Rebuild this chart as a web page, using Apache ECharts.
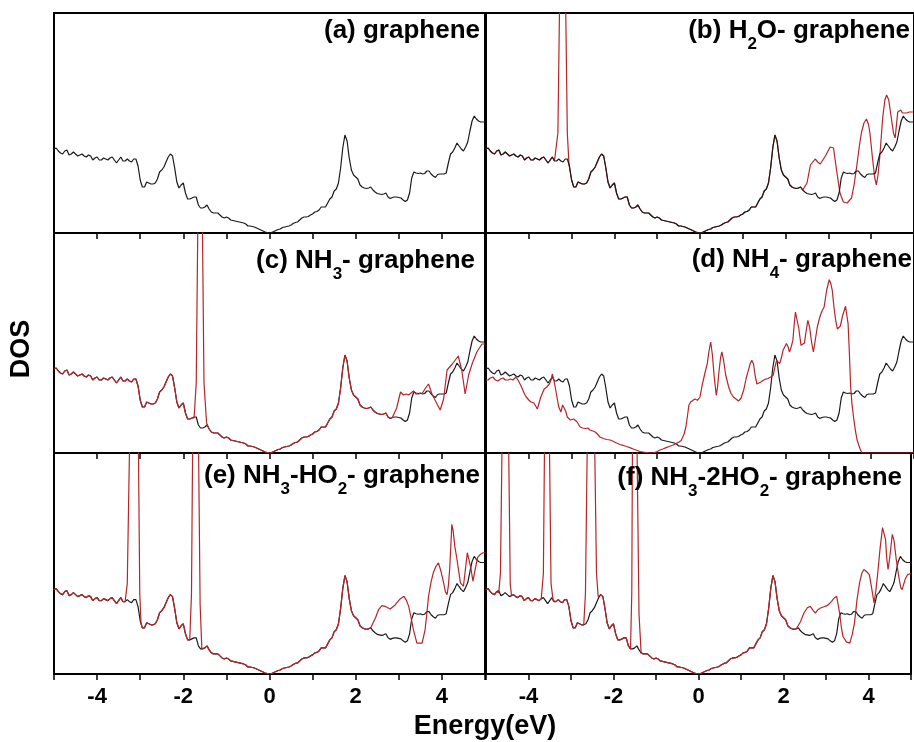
<!DOCTYPE html>
<html>
<head>
<meta charset="utf-8">
<title>DOS</title>
<script src="https://cdn.jsdelivr.net/npm/echarts@6/dist/echarts.min.js"></script>
<style>
  html, body { margin: 0; padding: 0; background: #fff; }
  #main { width: 914px; height: 742px; }
</style>
</head>
<body>
<div id="main"></div>
<script>
// energy grid (eV), one sample every 0.05 eV
const energy = Array.from({ length: 201 }, (_, i) => +(-5 + i * 0.05).toFixed(2));

// pristine graphene DOS (arb. units)
const pristine = [
  8.4, 8.5, 8.2, 8.0, 7.9, 8.2, 8.3, 7.8, 7.9, 8.1, 7.9, 7.7, 7.8, 7.9, 7.7, 7.6, 7.8, 7.7, 7.3, 7.5,
  7.6, 7.3, 7.3, 7.5, 7.4, 7.3, 7.5, 7.6, 7.3, 7.0, 7.3, 7.6, 7.2, 7.2, 7.4, 7.2, 7.1, 7.4, 7.4, 6.7,
  5.3, 4.6, 4.6, 5.1, 5.0, 4.9, 4.9, 5.0, 5.4, 6.1, 6.3, 6.6, 7.1, 7.6, 7.9, 7.7, 6.5, 5.1, 4.5, 4.8,
  5.0, 4.0, 3.4, 3.4, 3.5, 3.6, 3.6, 2.8, 2.5, 2.5, 2.6, 2.8, 2.4, 2.1, 2.0, 2.0, 2.0, 1.8, 1.6, 1.5,
  1.6, 1.5, 1.3, 1.25, 1.2, 1.15, 1.1, 1.05, 1.0, 0.9, 0.7, 0.7, 0.65, 0.6, 0.5, 0.4, 0.3, 0.2, 0.1, 0.05,
  0.0, 0.05, 0.15, 0.25, 0.35, 0.4, 0.55, 0.6, 0.65, 0.7, 0.8, 0.95, 1.05, 1.1, 1.3, 1.5, 1.6, 1.6, 1.65, 1.8,
  1.9, 2.1, 2.15, 2.3, 2.6, 2.6, 2.6, 3.0, 3.4, 3.6, 4.2, 4.4, 5.0, 6.5, 8.5, 9.8, 9.2, 7.5, 6.3, 5.8,
  5.6, 5.4, 4.8, 4.6, 4.5, 4.45, 4.5, 4.6, 4.3, 4.1, 3.95, 3.9, 3.85, 3.9, 4.0, 3.6, 3.45, 3.55, 3.6, 3.6,
  3.55, 3.5, 3.3, 3.15, 3.3, 4.0, 5.5, 6.1, 6.0, 5.95, 6.0, 5.9, 5.95, 6.2, 6.2, 5.9, 5.7, 5.55, 5.85, 5.9,
  5.9, 5.9, 6.0, 7.0, 7.9, 8.1, 8.5, 9.0, 8.7, 8.4, 8.2, 8.6, 9.1, 10.2, 11.2, 11.7, 11.4, 11.2, 11.1, 11.1, 11.1
];

// adsorbed systems: [energy, DOS] pairs where the red curve leaves the black one
const h2oSpike = [[-3.36, 7.3], [-3.32, 10], [-3.284, 22], [-3.24, 45], [-3.18, 45], [-3.136, 22], [-3.10, 10], [-3.06, 6.8]];
const h2oHigh = [[2.42, 4.1], [2.50, 5.0], [2.58, 6.8], [2.69, 7.4], [2.75, 7.1], [2.81, 6.9], [2.93, 7.7], [3.04, 8.6],
  [3.12, 8.5], [3.19, 6.3], [3.27, 4.0], [3.35, 3.1], [3.44, 3.0], [3.54, 3.5], [3.60, 4.8], [3.66, 6.6], [3.72, 8.6],
  [3.77, 10.0], [3.83, 11.0], [3.89, 11.4], [3.94, 10.8], [3.97, 10.0], [4.03, 7.5], [4.08, 5.6], [4.12, 4.8], [4.16, 5.8],
  [4.20, 7.6], [4.27, 11.6], [4.32, 13.3], [4.36, 13.8], [4.41, 13.3], [4.47, 11.5], [4.52, 10.0], [4.56, 9.5], [4.62, 12.1],
  [4.69, 12.3], [4.73, 12.0], [4.77, 11.8], [4.83, 12.0], [4.89, 12.1], [5.0, 12.1]];

const nh3Spike = [[-1.75, 3.5], [-1.70, 7], [-1.665, 22], [-1.64, 45], [-1.58, 45], [-1.555, 22], [-1.52, 7], [-1.46, 3.0]];
const nh3High = [[2.88, 3.5], [2.95, 4.5], [3.0, 5.4], [3.04, 6.1], [3.11, 5.8], [3.17, 5.9], [3.23, 5.8], [3.34, 6.2],
  [3.40, 5.9], [3.46, 5.9], [3.55, 6.0], [3.62, 6.5], [3.69, 6.9], [3.77, 5.9], [3.84, 5.3], [3.96, 4.3], [4.04, 5.4],
  [4.12, 8.3], [4.24, 8.9], [4.31, 9.3], [4.38, 9.7], [4.46, 8.3], [4.54, 5.9], [4.62, 7.8], [4.70, 8.9], [4.81, 10.1],
  [4.93, 10.9], [5.0, 10.9]];

const nh4Red = [[-5.0, 7.3], [-4.95, 7.3], [-4.90, 7.5], [-4.84, 7.6], [-4.78, 7.3], [-4.72, 7.2], [-4.66, 7.4], [-4.60, 7.5],
  [-4.55, 7.3], [-4.49, 7.3], [-4.43, 7.4], [-4.37, 7.3], [-4.30, 7.6], [-4.24, 7.2], [-4.18, 6.7], [-4.14, 6.3], [-4.10, 5.9],
  [-4.06, 5.6], [-4.00, 5.3], [-3.95, 5.1], [-3.88, 5.0], [-3.80, 4.4], [-3.76, 5.0], [-3.72, 5.6], [-3.64, 6.4], [-3.58, 6.6],
  [-3.52, 6.9], [-3.48, 7.3], [-3.45, 7.9], [-3.41, 7.2], [-3.37, 6.3], [-3.33, 5.3], [-3.30, 4.6], [-3.25, 4.1], [-3.21, 4.8],
  [-3.18, 4.9], [-3.14, 4.2], [-3.10, 3.6], [-3.03, 3.3], [-2.95, 3.4], [-2.87, 3.1], [-2.80, 2.6], [-2.74, 2.5], [-2.68, 2.45],
  [-2.62, 2.5], [-2.57, 2.3], [-2.50, 2.2], [-2.45, 2.1], [-2.40, 1.9], [-2.34, 1.6], [-2.26, 1.45], [-2.18, 1.35], [-2.10, 1.3],
  [-2.02, 1.15], [-1.95, 1.0], [-1.87, 0.85], [-1.80, 0.77], [-1.72, 0.65], [-1.64, 0.54], [-1.56, 0.4], [-1.48, 0.27],
  [-1.40, 0.15], [-1.33, 0.1], [-1.25, 0.05], [-1.18, 0.0], [-1.12, 0.0], [-1.06, 0.05], [-1.00, 0.15], [-0.95, 0.27],
  [-0.87, 0.4], [-0.79, 0.54], [-0.72, 0.65], [-0.64, 0.77], [-0.56, 0.95], [-0.49, 1.1], [-0.44, 1.25], [-0.41, 1.44],
  [-0.37, 1.9], [-0.33, 2.6], [-0.29, 3.8], [-0.26, 4.77], [-0.22, 5.1], [-0.18, 5.27], [-0.12, 5.4], [-0.06, 5.27],
  [0.0, 5.6], [0.05, 6.77], [0.11, 7.9], [0.17, 8.94], [0.21, 10.2], [0.25, 11.1], [0.29, 9.8], [0.33, 7.7], [0.38, 5.77],
  [0.41, 6.6], [0.44, 8.0], [0.48, 9.5], [0.51, 10.1], [0.55, 9.3], [0.60, 7.8], [0.67, 6.6], [0.72, 6.0], [0.78, 5.6],
  [0.84, 5.4], [0.90, 5.2], [0.96, 5.5], [1.02, 6.27], [1.08, 7.5], [1.13, 8.27], [1.17, 8.9], [1.21, 9.27], [1.25, 8.9],
  [1.29, 7.7], [1.33, 6.9], [1.36, 6.77], [1.42, 7.1], [1.48, 7.27], [1.54, 7.4], [1.59, 7.44], [1.65, 7.6], [1.71, 7.77],
  [1.75, 8.6], [1.79, 9.27], [1.83, 9.1], [1.86, 8.94], [1.90, 9.5], [1.94, 10.27], [2.02, 10.94], [2.06, 10.6], [2.09, 10.1],
  [2.13, 10.6], [2.17, 11.27], [2.20, 12.8], [2.23, 14.1], [2.27, 14.0], [2.31, 12.4], [2.36, 10.77], [2.44, 11.0],
  [2.48, 12.2], [2.52, 13.27], [2.56, 12.6], [2.61, 11.0], [2.65, 10.1], [2.69, 11.2], [2.74, 12.6], [2.80, 13.6],
  [2.85, 14.2], [2.90, 14.6], [2.96, 16.3], [3.02, 17.34], [3.06, 16.9], [3.09, 16.27], [3.13, 14.6], [3.17, 13.27],
  [3.21, 12.4], [3.24, 12.27], [3.28, 12.7], [3.33, 13.7], [3.40, 14.67], [3.43, 13.8], [3.46, 12.94], [3.49, 10.0],
  [3.52, 6.6], [3.55, 4.94], [3.59, 3.5], [3.63, 2.27], [3.67, 1.3], [3.71, 0.77], [3.75, 0.3], [3.79, 0.0], [5.0, 0.0]];

const nh3ho2Spike1 = [[-3.34, 7.2], [-3.30, 9], [-3.25, 22], [-3.22, 45], [-3.07, 45], [-3.04, 22], [-3.01, 8], [-2.98, 5.0]];
const nh3ho2Spike2 = [[-1.84, 3.4], [-1.81, 8], [-1.785, 22], [-1.77, 45], [-1.66, 45], [-1.645, 22], [-1.61, 7], [-1.57, 2.5]];
const nh3ho2High = [[2.38, 4.57], [2.46, 5.6], [2.53, 6.4], [2.61, 6.8], [2.70, 6.7], [2.80, 6.47], [2.92, 6.9], [3.03, 7.47],
  [3.12, 7.73], [3.18, 7.3], [3.23, 6.73], [3.29, 5.5], [3.34, 4.4], [3.42, 3.07], [3.54, 3.07], [3.61, 4.4], [3.65, 6.0],
  [3.69, 7.73], [3.75, 9.2], [3.80, 10.07], [3.86, 10.7], [3.92, 11.07], [3.98, 10.2], [4.04, 9.07], [4.08, 8.2], [4.12, 7.9],
  [4.15, 8.8], [4.18, 10.4], [4.21, 13.0], [4.23, 14.9], [4.26, 14.3], [4.30, 12.7], [4.35, 11.4], [4.43, 9.07], [4.50, 8.73],
  [4.55, 10.6], [4.59, 12.07], [4.63, 12.0], [4.67, 10.6], [4.72, 9.23], [4.77, 10.4], [4.83, 11.6], [4.89, 11.9],
  [4.95, 12.07], [5.0, 12.07]];

const nh32ho2SpikeA = [[-4.70, 8.1], [-4.66, 10], [-4.625, 22], [-4.60, 45], [-4.49, 45], [-4.465, 22], [-4.43, 9], [-4.40, 7.8]];
const nh32ho2SpikeB = [[-3.68, 7.4], [-3.65, 10], [-3.625, 22], [-3.61, 45], [-3.52, 45], [-3.505, 22], [-3.47, 9], [-3.42, 7.3]];
const nh32ho2SpikeC = [[-2.70, 4.9], [-2.66, 8], [-2.62, 22], [-2.60, 45], [-2.46, 45], [-2.44, 22], [-2.40, 10], [-2.36, 7.7]];
const nh32ho2SpikeD = [[-1.60, 2.5], [-1.57, 8], [-1.555, 22], [-1.54, 45], [-1.46, 45], [-1.445, 22], [-1.40, 6], [-1.35, 2.1], [-1.32, 2.0]];
const nh32ho2High = [[2.32, 4.4], [2.40, 5.2], [2.48, 6.07], [2.56, 6.6], [2.63, 6.73], [2.70, 6.3], [2.75, 6.07], [2.81, 6.4],
  [2.87, 6.57], [2.95, 6.7], [3.02, 6.8], [3.08, 7.0], [3.13, 7.23], [3.20, 7.6], [3.25, 7.73], [3.29, 6.8], [3.32, 6.07],
  [3.36, 4.7], [3.40, 3.73], [3.48, 3.2], [3.56, 3.07], [3.62, 4.0], [3.67, 5.07], [3.73, 7.4], [3.79, 9.07], [3.84, 10.0],
  [3.89, 10.4], [3.95, 10.2], [4.02, 9.9], [4.08, 8.4], [4.13, 7.07], [4.17, 8.2], [4.21, 9.73], [4.27, 12.4], [4.33, 14.57],
  [4.37, 14.4], [4.40, 13.4], [4.43, 11.5], [4.46, 10.4], [4.50, 11.6], [4.56, 13.9], [4.60, 13.3], [4.65, 11.5], [4.71, 9.73],
  [4.76, 8.6], [4.79, 8.4], [4.86, 9.4], [4.92, 9.9], [5.0, 10.0]];

const xTicks = [-4, -2, 0, 2, 4];

// red curve = black curve except inside the read windows
function withWindows(windows) {
  let pts = energy.map((e, i) => [e, pristine[i]]);
  windows.forEach(w => {
    const lo = w[0][0], hi = w[w.length - 1][0];
    pts = pts.filter(p => p[0] < lo || p[0] > hi).concat(w);
  });
  return pts.sort((a, b) => a[0] - b[0]);
}

const black = energy.map((e, i) => [e, pristine[i]]);
const panels = [
  { label: '{n|(a) graphene}', red: null, right: 434, top: 18 },
  { label: '{n|(b) H}{s|2}{n|O- graphene}', red: withWindows([h2oSpike, h2oHigh]), right: 4, top: 18, blackOnTop: true },
  { label: '{n|(c) NH}{s|3}{n|- graphene}', red: withWindows([nh3Spike, nh3High]), right: 439, top: 248 },
  { label: '{n|(d) NH}{s|4}{n|- graphene}', red: nh4Red, right: 2, top: 247 },
  { label: '{n|(e) NH}{s|3}{n|-HO}{s|2}{n|- graphene}', red: withWindows([nh3ho2Spike1, nh3ho2Spike2, nh3ho2High]), right: 434, top: 463 },
  { label: '{n|(f) NH}{s|3}{n|-2HO}{s|2}{n|- graphene}', red: withWindows([nh32ho2SpikeA, nh32ho2SpikeB, nh32ho2SpikeC, nh32ho2SpikeD, nh32ho2High]), right: 12, top: 465 }
];

const font = 'Liberation Sans, Arial, sans-serif';
const rowTop = [13, 233, 453];
const rowHeight = [220, 220, 221];

const grids = [], xAxes = [], yAxes = [], series = [], titles = [];
panels.forEach((p, i) => {
  const row = Math.floor(i / 2), col = i % 2;
  grids.push({
    left: col === 0 ? 54 : 486,
    width: col === 0 ? 431 : 431.5,
    top: rowTop[row],
    height: rowHeight[row],
    show: true,
    borderColor: '#000',
    borderWidth: 2
  });
  xAxes.push({
    type: 'value', gridIndex: i, min: -5, max: 5, interval: 1,
    axisLine: { show: true, onZero: false, lineStyle: { color: '#000', width: 2 } },
    axisTick: { show: true, inside: false, length: 6, lineStyle: { color: '#000', width: 1.5 } },
    axisLabel: {
      show: row === 2,
      margin: 12,
      color: '#000',
      fontSize: 22,
      fontWeight: 'bold',
      fontFamily: font,
      formatter: v => (xTicks.indexOf(v) >= 0 ? String(v) : '')
    },
    splitLine: { show: false }
  });
  yAxes.push({
    type: 'value', gridIndex: i, min: 0, max: 22,
    axisLine: { show: false }, axisTick: { show: false },
    axisLabel: { show: false }, splitLine: { show: false }
  });
  const blackSeries = {
    type: 'line', xAxisIndex: i, yAxisIndex: i, data: black,
    showSymbol: false, clip: true, silent: true,
    lineStyle: { color: '#1a1a1a', width: 1.2 }
  };
  const redSeries = p.red && {
    type: 'line', xAxisIndex: i, yAxisIndex: i, data: p.red,
    showSymbol: false, clip: true, silent: true,
    lineStyle: { color: '#b5252a', width: 1.2 }
  };
  if (!redSeries) series.push(blackSeries);
  else if (p.blackOnTop) series.push(redSeries, blackSeries);
  else series.push(blackSeries, redSeries);
  titles.push({
    text: p.label, right: p.right, top: p.top, padding: 0,
    textStyle: {
      rich: {
        n: { fontSize: 26, fontWeight: 'bold', fontFamily: font, color: '#000', lineHeight: 30, verticalAlign: 'top' },
        s: { fontSize: 17, fontWeight: 'bold', fontFamily: font, color: '#000', lineHeight: 18, padding: [18, 0, 0, 0], verticalAlign: 'top' }
      }
    }
  });
});

const chart = echarts.init(document.getElementById('main'));
chart.setOption({
  animation: false,
  backgroundColor: '#fff',
  title: titles,
  grid: grids,
  xAxis: xAxes,
  yAxis: yAxes,
  series: series,
  graphic: [
    {
      type: 'text', x: 22, y: 349, rotation: Math.PI / 2,
      style: { text: 'DOS', font: 'bold 27px ' + font, fill: '#000', textAlign: 'center', textVerticalAlign: 'middle', align: 'center', verticalAlign: 'middle' }
    },
    {
      type: 'text', x: 485, y: 727,
      style: { text: 'Energy(eV)', font: 'bold 27px ' + font, fill: '#000', textAlign: 'center', textVerticalAlign: 'middle', align: 'center', verticalAlign: 'middle' }
    }
  ]
});
</script>
</body>
</html>
